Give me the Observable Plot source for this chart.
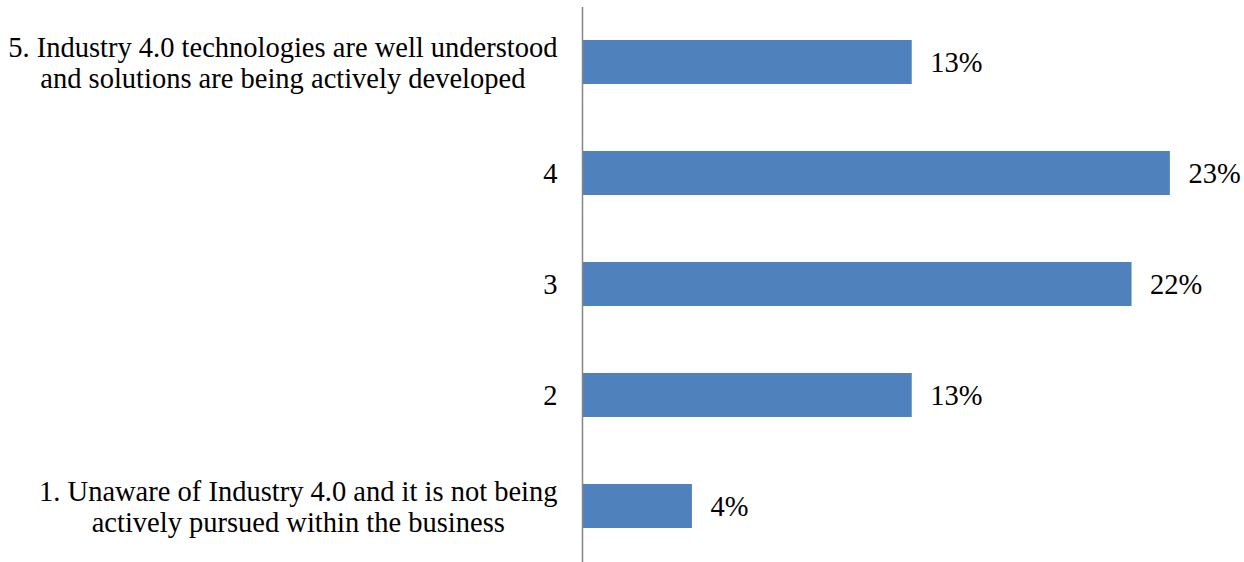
<!DOCTYPE html>
<html>
<head>
<meta charset="utf-8">
<script src="https://cdn.jsdelivr.net/npm/d3@7"></script>
<script src="https://cdn.jsdelivr.net/npm/@observablehq/plot@0.6"></script>
<style>
  html, body { margin: 0; padding: 0; background: #fff; }
  #chart svg { display: block; }
</style>
</head>
<body>
<div id="chart"></div>
<script>
const categories = [
  "5. Industry 4.0 technologies are well understood\nand solutions are being actively developed",
  "4",
  "3",
  "2",
  "1. Unaware of Industry 4.0 and it is not being\nactively pursued within the business"
];
const values = [12.9, 23.0, 21.5, 12.9, 4.3];
const valueLabels = ["13%", "23%", "22%", "13%", "4%"];

const data = categories.map((c, i) => ({category: c, value: values[i], label: valueLabels[i]}));

const FONT = "'Liberation Serif', serif";
const fontSize = 28.5;

const chart = Plot.plot({
  width: 1244,
  height: 562,
  marginLeft: 582,
  marginRight: 23,
  marginTop: 7,
  marginBottom: 0,
  style: {fontFamily: FONT, fontSize: fontSize + "px", color: "#000", background: "#fff"},
  x: {domain: [0, 25], axis: null},
  y: {domain: categories, paddingInner: 0.6, paddingOuter: 0.3, label: null},
  marks: [
    Plot.barX(data, {x: "value", y: "category", fill: "#4F81BD"}),
    Plot.ruleX([0], {stroke: "#868686", strokeWidth: 1.5}),
    Plot.text(data, {x: "value", y: "category", text: "label", textAnchor: "start", dx: 18, fill: "#000", fontSize: fontSize}),
    Plot.axisY({tickSize: 0, tickPadding: 25, fontSize: fontSize, lineHeight: 31 / fontSize, label: null, textAnchor: "end", lineWidth: 1000})
  ]
});
document.getElementById("chart").appendChild(chart);

// center the lines of multi-line tick labels within their block, keeping the block right-aligned
chart.querySelectorAll("[aria-label='y-axis tick label'] text").forEach(t => {
  const spans = t.querySelectorAll("tspan");
  if (spans.length < 2) return;
  const widths = Array.from(spans, s => s.getComputedTextLength());
  const w = Math.max(...widths);
  t.setAttribute("text-anchor", "middle");
  spans.forEach(s => {
    const x0 = +(s.getAttribute("x") || 0);
    s.setAttribute("x", x0 - w / 2);
  });
});
</script>
</body>
</html>
